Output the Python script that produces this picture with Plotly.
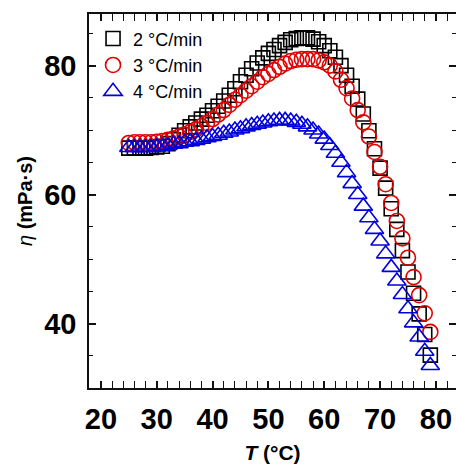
import plotly.graph_objects as go

temps = list(range(25, 80))

rate2 = [67.2, 67.2, 67.2, 67.2, 67.3, 67.4, 67.5, 67.9, 68.5, 69.2,
         69.9, 70.5, 71.1, 71.7, 72.3, 73.0, 73.7, 74.5, 75.4, 76.4,
         77.5, 78.5, 79.5, 80.4, 81.2, 81.9, 82.5, 83.1, 83.6, 84.0,
         84.2, 84.3, 84.3, 84.1, 83.7, 83.1, 82.3, 81.3, 80.0, 78.5,
         76.8, 74.8, 72.5, 69.9, 67.1, 64.1, 61.0, 57.8, 54.6, 51.3,
         48.0, 44.7, 41.5, 38.3, 35.1]

rate3 = [68.0, 68.1, 68.1, 68.1, 68.1, 68.2, 68.3, 68.5, 68.7, 69.0,
         69.3, 69.7, 70.1, 70.6, 71.1, 71.7, 72.4, 73.1, 73.9, 74.7,
         75.4, 76.1, 76.8, 77.5, 78.2, 78.7, 79.3, 79.8, 80.3, 80.7,
         80.9, 81.0, 81.0, 81.0, 80.8, 80.5, 80.0, 79.1, 77.8, 76.5,
         74.9, 73.1, 71.2, 69.0, 66.6, 64.3, 61.6, 58.7, 55.9, 53.2,
         50.2, 47.2, 44.4, 41.6, 38.7]

rate4 = [67.3, 67.3, 67.3, 67.3, 67.3, 67.4, 67.5, 67.6, 67.8, 67.9,
         68.1, 68.2, 68.4, 68.6, 68.8, 69.0, 69.2, 69.5, 69.7, 70.0,
         70.2, 70.5, 70.7, 70.9, 71.1, 71.3, 71.4, 71.5, 71.5, 71.4,
         71.2, 70.9, 70.5, 70.0, 69.4, 68.6, 67.6, 66.4, 65.0, 63.4,
         61.7, 60.0, 58.2, 56.4, 54.6, 52.8, 50.8, 48.7, 46.6, 44.5,
         42.3, 40.1, 37.9, 35.7, 33.5]

series_names = ["2 °C/min", "3 °C/min", "4 °C/min"]
x_ticks = [20, 30, 40, 50, 60, 70, 80]
y_ticks = [40, 60, 80]

FONT = "Liberation Sans, Arial, sans-serif"

fig = go.Figure()
styles = [
    ("square-open", "#000000", 14),
    ("circle-open", "#e00000", 15),
    ("triangle-up-open", "#0000dd", 16),
]
for vals, name, (sym, col, sz) in zip([rate2, rate3, rate4], series_names, styles):
    fig.add_trace(go.Scatter(
        x=temps, y=vals, mode="markers", name=name,
        marker=dict(symbol=sym, size=sz, color=col, line=dict(width=1.6, color=col)),
    ))

# invisible trace on secondary (right) axis for mirrored ticks
fig.add_trace(go.Scatter(x=[], y=[], yaxis="y2", showlegend=False, hoverinfo="skip"))

axis_common = dict(
    showgrid=False, zeroline=False, linecolor="#111", linewidth=1.5,
    ticks="inside", ticklen=7, tickwidth=1.5, tickcolor="#111",
)

fig.update_layout(
    width=456, height=464,
    margin=dict(l=89, r=0, t=14, b=76),
    paper_bgcolor="white", plot_bgcolor="white",
    font=dict(family=FONT, color="black"),
    xaxis=dict(
        **axis_common,
        range=[17.87, 83.6], tickvals=x_ticks, showline=True, mirror="allticks",
        minor=dict(dtick=2, ticklen=4, ticks="inside", tickwidth=1.2, tickcolor="#111"),
        tickfont=dict(size=29, family=FONT, weight="bold"),
        ticklabelstandoff=4,
        title=dict(text="<b><i>T</i> (°C)</b>", font=dict(size=21, family=FONT), standoff=14),
    ),
    yaxis=dict(
        **axis_common,
        range=[30, 88], tickvals=y_ticks, showline=True,
        minor=dict(dtick=5, ticklen=4, ticks="inside", tickwidth=1.2, tickcolor="#111"),
        tickfont=dict(size=29, family=FONT, weight="bold"),
        ticklabelstandoff=5,
        title=dict(text="<i>η</i> <b>(mPa·s)</b>", font=dict(size=20, family=FONT), standoff=6),
    ),
    yaxis2=dict(
        **axis_common,
        overlaying="y", side="right", matches="y", range=[30, 88], tickvals=y_ticks,
        showline=False, showticklabels=False,
        minor=dict(dtick=5, ticklen=4, ticks="inside", tickwidth=1.2, tickcolor="#111"),
    ),
    legend=dict(
        x=0.011, y=0.983, xanchor="left", yanchor="top",
        bgcolor="rgba(0,0,0,0)", borderwidth=0,
        font=dict(size=18, family=FONT, color="black"),
        tracegroupgap=0, itemsizing="trace",
    ),
    showlegend=True,
)

fig.write_html("out.html")
